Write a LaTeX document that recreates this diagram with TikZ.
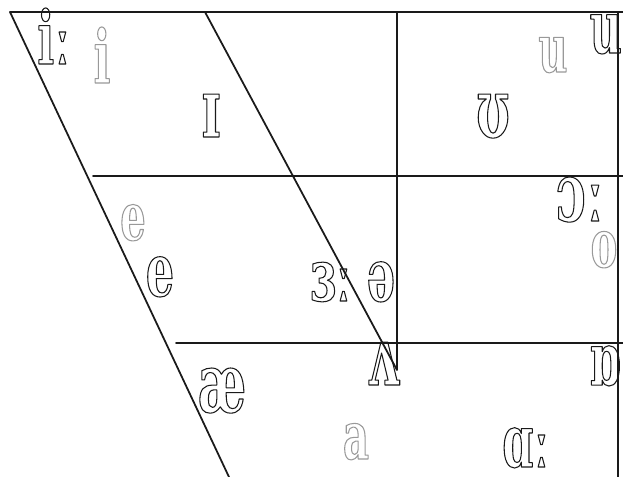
\documentclass[tikz,border=0pt]{standalone}
\usepackage{fontspec}
\usepackage{tikz}
\usetikzlibrary{calc}
\newfontfamily\ipafont[FakeStretch=0.6]{DejaVu Serif}
\definecolor{chartink}{HTML}{1A1A1A}
\definecolor{vowelgray}{HTML}{999999}

\begin{document}
\begin{tikzpicture}[x=0.02cm,y=-0.02cm,line cap=round,line join=round,
  chart/.style={line width=1pt,draw=chartink},
  vowel/.style={anchor=base,inner sep=0pt,text=chartink,
    font=\ipafont\bfseries\fontsize{42}{42}\selectfont,
    execute at begin node={\special{pdf:literal direct 1 Tr 0.6 w}},
    execute at end node={\special{pdf:literal direct 0 Tr}}},
  tall/.style={vowel,font=\ipafont\bfseries\fontsize{47}{47}\selectfont},
  faint/.style={vowel,text=vowelgray,font=\ipafont\bfseries\fontsize{38}{38}\selectfont}]
\path[use as bounding box] (0,0) rectangle (623,477);
\fill[white] (0,0) rectangle (623,477);
\begin{scope}
\clip (0,0) rectangle (623,477);
\coordinate (topL) at (10,12);
\coordinate (topR) at (630,12);
\coordinate (midTop) at (205,12);
\coordinate (midLow) at (397,370);
\coordinate (midUp) at (397,12);
% trapezium frame
\draw[chart] (topL) -- (topR);
\draw[chart] (topL) -- (229,477);
\draw[chart] (midTop) -- (midLow) -- (midUp);
\draw[chart] (93,176) -- (630,176);
\draw[chart] (176,343) -- (630,343);
\draw[chart] (618,12) -- (618,477);
% close vowels
\node[vowel] (iLong) at (54,64) {iː};
\node[faint,font=\ipafont\bfseries\fontsize{42}{42}\selectfont] (iShort) at (102,83) {i};
\node[tall] (bigI) at (211,137) {ɪ};
\node[tall] (upsilon) at (493,137) {ʊ};
\node[faint] (uShort) at (553,72) {u};
\node[vowel] (uLong) at (614,53) {uː};
% mid vowels
\node[faint] (eGray) at (133,240) {e};
\node[vowel] (eBlack) at (160,296) {e};
\node[vowel] (erLong) at (331,301) {ɜː};
\node[vowel] (schwa) at (381,301) {ə};
\node[tall] (oLong) at (580,221) {ɔː};
\node[faint] (oShort) at (604,267) {o};
% open vowels
\node[tall] (wedge) at (383,385) {ʌ};
\node[vowel] (openO) at (605,385) {ɒ};
\node[tall] (ash) at (222,412) {æ};
\node[faint] (aShort) at (356,459) {a};
\node[vowel] (aLong) at (526,467) {ɑː};
\end{scope}
\end{tikzpicture}
\end{document}
